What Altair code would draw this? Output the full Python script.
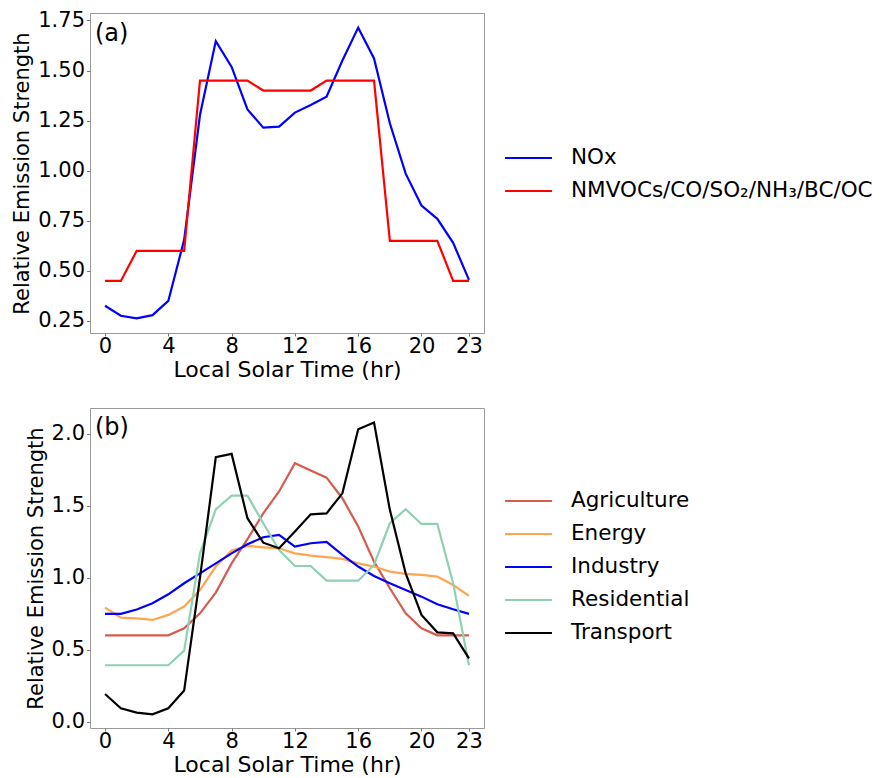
import altair as alt
import pandas as pd

hours = list(range(24))

# Panel (a)
nox = [0.326, 0.276, 0.263, 0.279, 0.35, 0.655, 1.278, 1.647, 1.518, 1.306, 1.215, 1.22,
       1.29, 1.328, 1.369, 1.55, 1.714, 1.56, 1.237, 0.985, 0.826, 0.76, 0.64, 0.455]
nmvoc = [0.45, 0.45, 0.60, 0.60, 0.60, 0.60, 1.45, 1.45, 1.45, 1.45, 1.40, 1.40,
         1.40, 1.40, 1.45, 1.45, 1.45, 1.45, 0.65, 0.65, 0.65, 0.65, 0.45, 0.45]
series_a = ["NOx", "NMVOCs/CO/SO\u2082/NH\u2083/BC/OC"]
colors_a = ["#0000ff", "#ff0000"]

# Panel (b)
agriculture = [0.6, 0.6, 0.6, 0.6, 0.6, 0.649, 0.753, 0.897, 1.10, 1.268, 1.448, 1.60,
               1.796, 1.745, 1.696, 1.553, 1.356, 1.112, 0.927, 0.753, 0.649, 0.6, 0.6, 0.6]
energy = [0.793, 0.723, 0.718, 0.707, 0.742, 0.80, 0.915, 1.078, 1.189, 1.221, 1.212, 1.205,
          1.17, 1.154, 1.143, 1.131, 1.10, 1.078, 1.043, 1.027, 1.02, 1.008, 0.95, 0.874]
industry = [0.749, 0.749, 0.78, 0.823, 0.885, 0.962, 1.031, 1.10, 1.17, 1.233, 1.282, 1.298,
            1.217, 1.24, 1.249, 1.159, 1.078, 1.013, 0.962, 0.915, 0.869, 0.816, 0.781, 0.749]
residential = [0.392, 0.392, 0.392, 0.392, 0.392, 0.494, 1.17, 1.476, 1.571, 1.571, 1.379, 1.193,
               1.082, 1.082, 0.98, 0.98, 0.98, 1.089, 1.379, 1.476, 1.374, 1.374, 0.962, 0.392]
transport = [0.192, 0.093, 0.063, 0.051, 0.093, 0.216, 1.0, 1.838, 1.861, 1.414, 1.244, 1.205,
             1.321, 1.441, 1.448, 1.587, 2.032, 2.079, 1.472, 1.031, 0.742, 0.621, 0.614, 0.44]
series_b = ["Agriculture", "Energy", "Industry", "Residential", "Transport"]
colors_b = ["#d65b50", "#ffa552", "#0000ff", "#8fd1b2", "#000000"]

x_ticks = [0, 4, 8, 12, 16, 20, 23]
y_ticks_a = [0.25, 0.5, 0.75, 1.0, 1.25, 1.5, 1.75]
y_ticks_b = [0.0, 0.5, 1.0, 1.5, 2.0]

df_a = pd.concat([
    pd.DataFrame({"hour": hours, "value": nox, "series": series_a[0]}),
    pd.DataFrame({"hour": hours, "value": nmvoc, "series": series_a[1]}),
])
df_b = pd.concat([
    pd.DataFrame({"hour": hours, "value": v, "series": s})
    for s, v in zip(series_b, [agriculture, energy, industry, residential, transport])
])

W, H = 394, 320
FONT = "DejaVu Sans"

xenc = alt.X("hour:Q", title="Local Solar Time (hr)",
             scale=alt.Scale(domain=[-0.95, 23.95], nice=False, zero=False),
             axis=alt.Axis(values=x_ticks, format="d", labelFlush=False))


def legend(y):
    return alt.Legend(title=None, orient="none", legendX=414, legendY=y,
                      symbolType="stroke", symbolSize=2200, symbolStrokeWidth=2,
                      clipHeight=22, rowPadding=11, labelFontSize=21.5, labelFont=FONT,
                      labelOffset=18, labelColor="#000", padding=0, labelLimit=0)


lines_a = alt.Chart(df_a).mark_line(strokeWidth=2.2).encode(
    x=xenc,
    y=alt.Y("value:Q", title="Relative Emission Strength",
            scale=alt.Scale(domain=[0.19, 1.787], nice=False, zero=False),
            axis=alt.Axis(values=y_ticks_a, format=".2f")),
    color=alt.Color("series:N", scale=alt.Scale(domain=series_a, range=colors_a),
                    sort=series_a, legend=legend(134)),
)
label_a = alt.Chart(pd.DataFrame({"t": ["(a)"]})).mark_text(
    align="left", baseline="middle", fontSize=24, font=FONT, color="#000"
).encode(x=alt.value(5), y=alt.value(21), text="t:N")
panel_a = alt.layer(lines_a, label_a).properties(width=W, height=H)

lines_b = alt.Chart(df_b).mark_line(strokeWidth=2.2).encode(
    x=xenc,
    y=alt.Y("value:Q", title="Relative Emission Strength",
            scale=alt.Scale(domain=[-0.044, 2.18], nice=False, zero=False),
            axis=alt.Axis(values=y_ticks_b, format=".1f")),
    color=alt.Color("series:N", scale=alt.Scale(domain=series_b, range=colors_b),
                    sort=series_b, legend=legend(82)),
)
label_b = alt.Chart(pd.DataFrame({"t": ["(b)"]})).mark_text(
    align="left", baseline="middle", fontSize=24, font=FONT, color="#000"
).encode(x=alt.value(5), y=alt.value(20), text="t:N")
panel_b = alt.layer(lines_b, label_b).properties(width=W, height=H)

chart = alt.vconcat(panel_a, panel_b, spacing=26).resolve_scale(color="independent").configure_view(
    stroke="#999", strokeWidth=1
).configure_axis(
    grid=False, domain=False, tickColor="#777", tickSize=3.5,
    labelFont=FONT, labelFontSize=21, labelColor="#000",
    titleFont=FONT, titleFontWeight="normal", titleColor="#000",
).configure_axisY(titlePadding=5, titleFontSize=21, labelPadding=2).configure_axisX(
    titlePadding=3, titleFontSize=22, labelPadding=-1, tickSize=3
).properties(
    padding={"left": 3, "top": 0, "right": 0, "bottom": 0}
)

chart.save("out.html", embed_options={"renderer": "svg", "actions": False})
